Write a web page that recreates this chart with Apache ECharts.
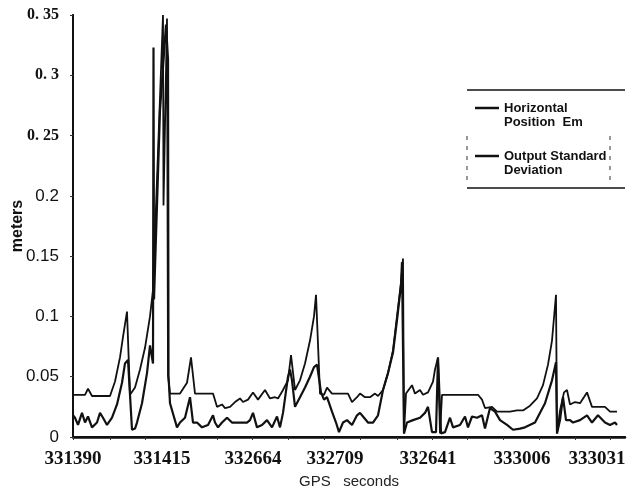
<!DOCTYPE html>
<html>
<head>
<meta charset="utf-8">
<script src="https://cdn.jsdelivr.net/npm/echarts@6/dist/echarts.min.js"></script>
<style>html,body{margin:0;padding:0;background:#fff}#c{width:632px;height:492px}</style>
</head>
<body>
<div id="c"></div>
<script>
// sample index along the record (x) and values in meters (y)
const stdX = [0,12,15,19,37,42,47,50,54,57,62,67,72,77,80,90,90.5,94,95,97,107,114,118,122,140,144,149,152,157,162,167,170,175,180,185,192,197,202,205,210,215,218,222,227,232,237,241,243,247,251,254,259,275,279,284,287,292,297,302,305,310,315,320,324,328,330,331,333,339,342,347,350,355,360,362,365,367,369,405,409,412,419,424,437,444,450,457,464,470,475,479,483,484,487,491,494,497,502,507,514,519,532,537,544];
const stdY = [0.035,0.035,0.040,0.034,0.034,0.046,0.066,0.083,0.104,0.035,0.041,0.056,0.074,0.100,0.122,0.350,0.192,0.347,0.051,0.036,0.036,0.045,0.066,0.036,0.036,0.025,0.027,0.024,0.025,0.029,0.032,0.029,0.031,0.037,0.031,0.039,0.032,0.033,0.032,0.039,0.047,0.068,0.039,0.047,0.061,0.080,0.100,0.118,0.036,0.035,0.041,0.036,0.036,0.029,0.033,0.036,0.033,0.033,0.036,0.034,0.039,0.053,0.072,0.100,0.128,0.148,0.003,0.036,0.043,0.036,0.039,0.035,0.037,0.046,0.056,0.066,0.003,0.035,0.035,0.031,0.024,0.025,0.021,0.021,0.022,0.022,0.026,0.032,0.043,0.060,0.080,0.118,0.003,0.022,0.037,0.039,0.027,0.029,0.028,0.037,0.025,0.025,0.021,0.021];
const emX = [0,2,5,9,12,15,19,24,27,30,34,39,44,49,52,55,59,62,64,69,74,77,80,80.5,81,87,93,95,95.5,97,104,107,112,117,120,124,129,135,140,142,145,149,154,159,164,169,174,177,180,184,189,194,199,204,207,210,215,217,219,222,227,232,237,241,244,248,251,254,259,263,266,270,274,279,284,287,290,295,300,305,310,315,320,324,328,329,331,334,340,347,352,355,359,363,365,368,372,377,380,387,392,395,399,404,409,412,417,422,427,434,440,447,452,462,472,479,483,484,487,490,493,497,500,507,514,519,525,532,537,542,544];
const emY = [0.018,0.016,0.010,0.020,0.012,0.017,0.008,0.012,0.020,0.016,0.010,0.016,0.027,0.045,0.061,0.064,0.006,0.007,0.012,0.028,0.053,0.076,0.061,0.323,0.114,0.271,0.342,0.313,0.051,0.028,0.008,0.012,0.016,0.033,0.012,0.012,0.008,0.010,0.018,0.012,0.008,0.012,0.016,0.012,0.012,0.012,0.012,0.014,0.020,0.008,0.010,0.014,0.008,0.017,0.008,0.020,0.050,0.056,0.047,0.025,0.033,0.041,0.050,0.058,0.060,0.037,0.031,0.033,0.021,0.012,0.004,0.012,0.014,0.010,0.018,0.020,0.017,0.012,0.012,0.018,0.039,0.053,0.070,0.097,0.126,0.145,0.003,0.012,0.014,0.016,0.020,0.025,0.004,0.004,0.066,0.003,0.004,0.016,0.008,0.010,0.017,0.008,0.017,0.016,0.018,0.007,0.024,0.021,0.014,0.010,0.006,0.007,0.008,0.012,0.028,0.047,0.062,0.003,0.014,0.033,0.014,0.014,0.012,0.014,0.018,0.012,0.018,0.012,0.010,0.012,0.010];

// x-axis tick labels (GPS seconds) and where they sit along the record
const xLabelPos = [0, 89, 180, 262, 355, 449, 524];
const xLabels = ['331390', '331415', '332664', '332709', '332641', '333006', '333031'];
const xTickPos = [0, 37, 72, 107, 144, 179, 215, 251, 287, 324, 359, 394, 430, 466, 502, 537];
// y-axis tick labels
const yLabels = ['0', '0.05', '0.1', '0.15', '0.2', '0. 25', '0. 3', '0. 35'];

const seriesNames = ['Horizontal\nPosition  Em', 'Output Standard\nDeviation'];

const pair = (xs, ys) => xs.map((x, i) => [x, ys[i]]);

const chart = echarts.init(document.getElementById('c'), null, {renderer: 'canvas'});
chart.setOption({
  animation: false,
  backgroundColor: '#ffffff',
  grid: {left: 73, right: 7, top: 15, bottom: 55, containLabel: false, outerBoundsMode: 'none'},
  legend: {
    left: 470, top: 82, orient: 'vertical', itemWidth: 24, itemHeight: 2.5, itemGap: 6,
    icon: 'rect', selectedMode: false,
    formatter: name => '\n' + name,
    textStyle: {fontFamily: 'Liberation Sans, Arial, sans-serif', fontWeight: 'bold', fontSize: 13,
      color: '#111', lineHeight: 14},
    data: [
      {name: seriesNames[0], itemStyle: {color: '#111'}},
      {name: seriesNames[1], itemStyle: {color: '#111'}}
    ]
  },
  graphic: [
    {type: 'line', shape: {x1: 467, y1: 90, x2: 625, y2: 90}, style: {stroke: '#111', lineWidth: 1.5}},
    {type: 'line', shape: {x1: 467, y1: 188, x2: 625, y2: 188}, style: {stroke: '#111', lineWidth: 1.5}},
    {type: 'line', shape: {x1: 467, y1: 136, x2: 467, y2: 180}, style: {stroke: '#333', lineWidth: 1, lineDash: [4, 6]}},
    {type: 'line', shape: {x1: 610, y1: 136, x2: 610, y2: 180}, style: {stroke: '#333', lineWidth: 1, lineDash: [4, 6]}}
  ],
  xAxis: [{
    type: 'value', min: 0, max: 552,
    name: 'GPS   seconds', nameLocation: 'middle', nameGap: 35,
    nameTextStyle: {fontFamily: 'Liberation Sans, Arial, sans-serif', fontSize: 15, color: '#222'},
    axisLine: {show: true, lineStyle: {color: '#111', width: 2.5}},
    axisTick: {show: true, length: 3, lineStyle: {color: '#333', width: 1}, customValues: xTickPos},
    axisLabel: {
      customValues: xLabelPos, margin: 13,
      fontFamily: 'Liberation Serif, Times New Roman, serif', fontWeight: 'bold', fontSize: 19, color: '#111',
      formatter: v => { const i = xLabelPos.indexOf(v); return i >= 0 ? xLabels[i] : ''; }
    },
    splitLine: {show: false}
  }, {
    type: 'value', min: 0, max: 552, position: 'top',
    axisLine: {show: true, lineStyle: {color: '#111', width: 2}},
    axisTick: {show: false}, axisLabel: {show: false}, splitLine: {show: false}
  }],
  yAxis: [{
    type: 'value', min: 0, max: 0.35, interval: 0.05,
    name: 'meters', nameLocation: 'middle', nameGap: 47, nameMoveOverlap: false,
    nameTextStyle: {fontFamily: 'Liberation Sans, Arial, sans-serif', fontWeight: 'bold', fontSize: 16, color: '#111'},
    axisLine: {show: true, lineStyle: {color: '#111', width: 2}},
    axisTick: {show: true, length: 3, lineStyle: {color: '#333'}},
    axisLabel: {
      margin: 14, color: '#111',
      formatter: v => {
        const i = Math.round(v / 0.05);
        return i >= 5 ? '{s|' + yLabels[i] + '}' : '{n|' + yLabels[i] + '}';
      },
      rich: {
        s: {fontFamily: 'Liberation Serif, Times New Roman, serif', fontWeight: 'bold', fontSize: 16, color: '#111'},
        n: {fontFamily: 'Liberation Sans, Arial, sans-serif', fontSize: 17, color: '#111'}
      }
    },
    splitLine: {show: false}
  }, {
    type: 'value', min: 0, max: 0.35, interval: 0.05, position: 'right',
    axisLine: {show: true, lineStyle: {color: '#111', width: 2}},
    axisTick: {show: false}, axisLabel: {show: false}, splitLine: {show: false}
  }],
  series: [{
    name: seriesNames[0], type: 'line', data: pair(emX, emY), showSymbol: false, symbol: 'none',
    lineStyle: {color: '#111', width: 2.2}, itemStyle: {color: '#111'}, clip: true
  }, {
    name: seriesNames[1], type: 'line', data: pair(stdX, stdY), showSymbol: false, symbol: 'none',
    lineStyle: {color: '#111', width: 1.8}, itemStyle: {color: '#111'}, clip: true
  }]
});
</script>
</body>
</html>
